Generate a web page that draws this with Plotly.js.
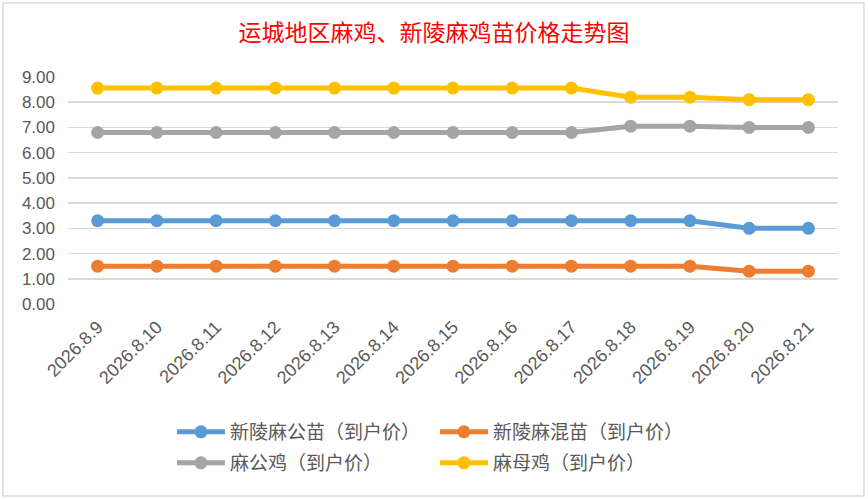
<!DOCTYPE html>
<html>
<head>
<meta charset="utf-8">
<script src="https://cdn.plot.ly/plotly-3.0.1.min.js"></script>
<style>
html,body{margin:0;padding:0;background:#fff;}
#chart{width:868px;height:499px;}
</style>
</head>
<body>
<div id="chart"></div>
<script>
var dates = ["2026.8.9","2026.8.10","2026.8.11","2026.8.12","2026.8.13","2026.8.14","2026.8.15","2026.8.16","2026.8.17","2026.8.18","2026.8.19","2026.8.20","2026.8.21"];
var seriesNames = ["新陵麻公苗（到户价）","新陵麻混苗（到户价）","麻公鸡（到户价）","麻母鸡（到户价）"];
var maleChick = [3.3,3.3,3.3,3.3,3.3,3.3,3.3,3.3,3.3,3.3,3.3,3.0,3.0];
var mixedChick = [1.5,1.5,1.5,1.5,1.5,1.5,1.5,1.5,1.5,1.5,1.5,1.3,1.3];
var rooster = [6.8,6.8,6.8,6.8,6.8,6.8,6.8,6.8,6.8,7.05,7.05,7.0,7.0];
var hen = [8.56,8.56,8.56,8.56,8.56,8.56,8.56,8.56,8.56,8.2,8.2,8.1,8.1];
var yTicks = [0,1,2,3,4,5,6,7,8,9];
var colors = ["#5b9bd5","#ed7d31","#a5a5a5","#ffc000"];
var values = [maleChick, mixedChick, rooster, hen];
var legendIds = ["legend","legend","legend2","legend2"];

var traces = values.map(function(v,i){
  return {
    x: dates, y: v, name: seriesNames[i], type: "scatter", mode: "lines+markers",
    line: {color: colors[i], width: 5},
    marker: {color: colors[i], size: 13},
    legend: legendIds[i]
  };
});

var cjk = "'Noto Sans CJK SC', 'Noto Sans', sans-serif";
var num = "'Liberation Sans', 'DejaVu Sans', sans-serif";

function legendCfg(y){
  return {
    orientation: "h", x: 0.135, xanchor: "left", y: y, yanchor: "middle",
    entrywidth: 200, entrywidthmode: "pixels", itemwidth: 48,
    font: {family: cjk, size: 19, color: "#595959"},
    traceorder: "normal", bgcolor: "rgba(0,0,0,0)"
  };
}

var layout = {
  width: 868, height: 499,
  margin: {l: 68, r: 30, t: 77, b: 195},
  paper_bgcolor: "#ffffff", plot_bgcolor: "#ffffff",
  title: {text: "运城地区麻鸡、新陵麻鸡苗价格走势图", font: {family: cjk, size: 23, color: "#ff0000"}, x: 0.5, xanchor: "center", y: 0.934, yanchor: "middle"},
  xaxis: {
    type: "category", range: [-0.5, 12.5], showgrid: false, zeroline: false,
    showline: false, ticks: "", tickangle: -45, ticklabelstandoff: 8,
    tickfont: {family: num, size: 18, color: "#595959"}
  },
  yaxis: {
    range: [0, 9], tickvals: yTicks, tickformat: ".2f",
    showgrid: true, gridcolor: "#d9d9d9", gridwidth: 1.5, zeroline: false,
    showline: false, ticks: "", ticklabelstandoff: 12,
    tickfont: {family: num, size: 17, color: "#595959"}
  },
  showlegend: true,
  legend: legendCfg(-(432-304)/227),
  legend2: legendCfg(-(463-304)/227),
  shapes: [{
    type: "rect", xref: "paper", yref: "paper",
    x0: (3-68)/770, x1: (864-68)/770, y0: (304-496)/227, y1: (304-3)/227,
    line: {color: "#d9d9d9", width: 1.5}, fillcolor: "rgba(0,0,0,0)", layer: "below"
  }]
};

Plotly.newPlot("chart", traces, layout, {displayModeBar: false, staticPlot: true});
</script>
</body>
</html>
